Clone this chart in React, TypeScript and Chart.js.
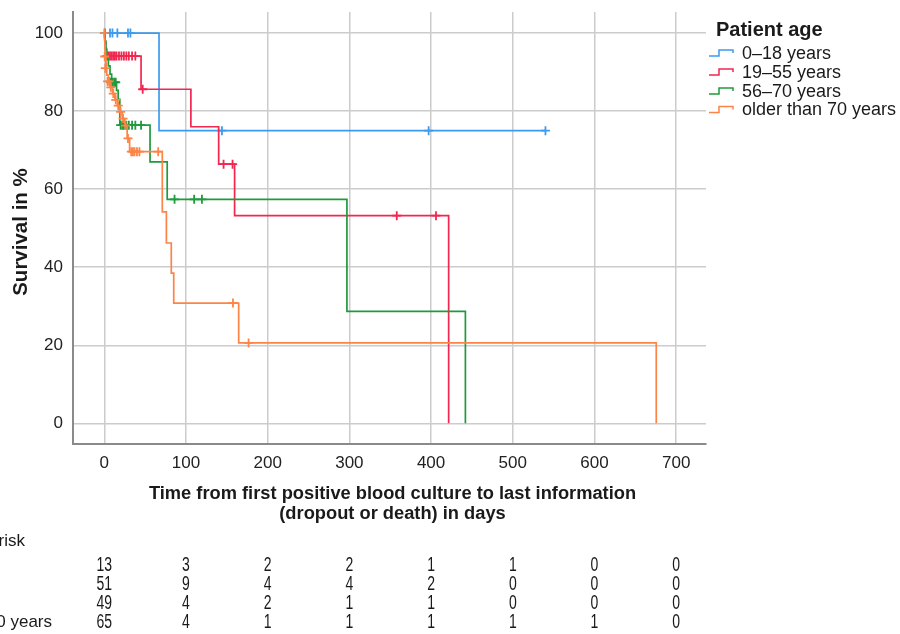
import React, { useEffect, useRef } from "react";
import { Chart, registerables } from "chart.js";

Chart.register(...registerables);

const FONT = '"Liberation Sans", Arial, sans-serif';

const groupLabels = ["0–18 years", "19–55 years", "56–70 years", "older than 70 years"];
const groupColors = ["#3d9bef", "#f2264f", "#1f9a3c", "#fd8446"];

// 0–18 years
const blueTimes = [0, 67, 540];
const blueSurv = [100, 75, 75];
const blueCensorTimes = [1, 7, 10, 16, 29, 32, 144, 397, 540];
const blueCensorSurv = [100, 100, 100, 100, 100, 100, 75, 75, 75];

// 19–55 years
const redTimes = [0, 0.5, 1.5, 2.5, 45, 106, 140, 159.5, 421.5];
const redSurv = [100, 98, 96.1, 94.1, 85.6, 76.0, 66.4, 53.2, 0];
const redCensorTimes = [3, 5, 7, 9, 11, 13, 15, 18, 21, 24, 27, 30, 34, 38, 47, 146, 157, 358, 406];
const redCensorSurv = [94.1, 94.1, 94.1, 94.1, 94.1, 94.1, 94.1, 94.1, 94.1, 94.1, 94.1, 94.1, 94.1, 94.1, 85.6, 66.4, 66.4, 53.2, 53.2];

// 56–70 years
const greenTimes = [0, 1, 2, 3, 5, 7, 9, 15, 17, 19, 56, 77, 297, 442];
const greenSurv = [100, 97.9, 95.8, 93.7, 91.6, 89.5, 87.4, 85.3, 83.0, 76.4, 67.0, 57.4, 28.7, 0];
const greenCensorTimes = [8, 10, 12, 14, 20, 22, 24, 27, 30, 34, 38, 45, 86, 110, 119.5];
const greenCensorSurv = [87.4, 87.4, 87.4, 87.4, 76.4, 76.4, 76.4, 76.4, 76.4, 76.4, 76.4, 76.4, 57.4, 57.4, 57.4];

// older than 70 years
const orangeTimes = [0, 0.3, 0.7, 1, 1.5, 2, 2.5, 3, 5, 7, 10, 13, 16, 19, 22, 25, 28, 31, 71, 76, 82, 85, 164.5, 675.6];
const orangeSurv = [100, 98.5, 96.9, 95.4, 93.8, 92.3, 90.8, 89.2, 87.6, 86.1, 84.5, 82.9, 81.4, 79.8, 78.1, 76.3, 73.0, 69.6, 54.2, 46.2, 38.5, 30.8, 20.6, 0];
const orangeCensorTimes = [0, 0.5, 1.2, 4, 6, 8, 11, 14, 17, 20, 23, 26, 29, 33, 35, 37, 40, 43, 66, 157.5, 176.6];
const orangeCensorSurv = [100, 94, 91, 87.6, 87.6, 86.1, 84.5, 82.9, 81.4, 79.8, 78.1, 76.3, 73.0, 69.6, 69.6, 69.6, 69.6, 69.6, 69.6, 30.8, 20.6];

// Number at risk table
const riskTimes = [0, 100, 200, 300, 400, 500, 600, 700];
const riskBlue = [13, 3, 2, 2, 1, 1, 0, 0];
const riskRed = [51, 9, 4, 4, 2, 0, 0, 0];
const riskGreen = [49, 4, 2, 1, 1, 0, 0, 0];
const riskOrange = [65, 4, 1, 1, 1, 1, 1, 0];

const xTicks = [0, 100, 200, 300, 400, 500, 600, 700];
const yTicks = [0, 20, 40, 60, 80, 100];

const xTitleLines = ["Time from first positive blood culture to last information", "(dropout or death) in days"];
const yTitle = "Survival in %";
const legendTitle = "Patient age";
const riskTitle = "Number at risk";

const toXY = (ts: number[], ss: number[]) => ts.map((t, i) => ({ x: t, y: ss[i] }));

export default function App() {
  const ref = useRef<HTMLCanvasElement | null>(null);

  useEffect(() => {
    if (!ref.current) return;
    const groups = [
      [blueTimes, blueSurv, blueCensorTimes, blueCensorSurv],
      [redTimes, redSurv, redCensorTimes, redCensorSurv],
      [greenTimes, greenSurv, greenCensorTimes, greenCensorSurv],
      [orangeTimes, orangeSurv, orangeCensorTimes, orangeCensorSurv],
    ];
    const datasets: any[] = [];
    groups.forEach((g, i) => {
      datasets.push({
        label: groupLabels[i],
        data: toXY(g[0], g[1]),
        borderColor: groupColors[i],
        borderWidth: 1.7,
        stepped: "before",
        pointRadius: 0,
        fill: false,
        order: 10 - i * 2,
      });
      datasets.push({
        label: groupLabels[i] + " censored",
        data: toXY(g[2], g[3]),
        showLine: false,
        pointStyle: "cross",
        pointRadius: 4.5,
        pointBorderColor: groupColors[i],
        pointBackgroundColor: groupColors[i],
        pointBorderWidth: 1.8,
        order: 10 - i * 2,
      });
    });
    const risks = [riskBlue, riskRed, riskGreen, riskOrange];

    const overlay = {
      id: "overlay",
      afterDraw(chart: any) {
        const ctx = chart.ctx as CanvasRenderingContext2D;
        const xs = chart.scales.x;
        const area = chart.chartArea;
        ctx.save();
        // x title
        ctx.fillStyle = "#1a1a1a";
        ctx.font = `bold 18.3px ${FONT}`;
        ctx.textAlign = "center";
        ctx.textBaseline = "middle";
        const cx = (area.left + area.right) / 2 + 3;
        ctx.fillText(xTitleLines[0], cx, 494);
        ctx.fillText(xTitleLines[1], cx, 514);
        // y title
        ctx.save();
        ctx.translate(21, 232);
        ctx.rotate(-Math.PI / 2);
        ctx.font = `bold 20.5px ${FONT}`;
        ctx.fillText(yTitle, 0, 0);
        ctx.restore();
        // legend
        ctx.textAlign = "left";
        ctx.font = `bold 20px ${FONT}`;
        ctx.fillText(legendTitle, 716, 30);
        ctx.font = `18px ${FONT}`;
        const ly = [53, 72, 91, 109.5];
        groupLabels.forEach((lab, i) => {
          const y = ly[i];
          ctx.strokeStyle = groupColors[i];
          ctx.lineWidth = 1.5;
          ctx.beginPath();
          ctx.moveTo(709, y + 3);
          ctx.lineTo(719, y + 3);
          ctx.lineTo(719, y - 3);
          ctx.lineTo(733, y - 3);
          ctx.lineTo(733, y);
          ctx.stroke();
          ctx.fillStyle = "#1a1a1a";
          ctx.fillText(lab, 742, y + 1);
        });
        // number at risk table
        const sx = 0.7;
        const narrow = (text: string, x: number, y: number, align: CanvasTextAlign) => {
          ctx.save();
          ctx.translate(x, y);
          ctx.scale(sx, 1);
          ctx.textAlign = align;
          ctx.fillText(text, 0, 0);
          ctx.restore();
        };
        ctx.fillStyle = "#1a1a1a";
        ctx.font = `17px ${FONT}`;
        ctx.textAlign = "right";
        ctx.fillText(riskTitle, 25, 541);
        const rowY = [565, 584, 603, 622];
        const labelStart = 52 - ctx.measureText(groupLabels[3]).width;
        ctx.textAlign = "left";
        groupLabels.forEach((lab, r) => ctx.fillText(lab, labelStart, rowY[r]));
        ctx.font = `20px ${FONT}`;
        risks.forEach((row, r) => {
          row.forEach((v, j) => {
            narrow(String(v), xs.getPixelForValue(riskTimes[j]), rowY[r], "center");
          });
        });
        ctx.restore();
      },
    };

    const chart = new Chart(ref.current, {
      type: "line",
      data: { datasets },
      plugins: [overlay],
      options: {
        animation: false,
        responsive: false,
        layout: { padding: { left: 0, top: 12, right: 194, bottom: 0 } },
        plugins: { legend: { display: false }, tooltip: { enabled: false } },
        scales: {
          x: {
            type: "linear",
            min: -38.3,
            max: 736.5,
            afterBuildTicks: (s: any) => {
              s.ticks = xTicks.map((v) => ({ value: v }));
            },
            afterFit: (s: any) => {
              s.height = 190;
              s.paddingLeft = 0;
              s.paddingRight = 0;
            },
            grid: { color: "#cccccc", lineWidth: 1.5, drawTicks: false },
            border: { color: "#8a8a8a", width: 2 },
            ticks: {
              font: { family: FONT, size: 17 },
              color: "#222222",
              padding: 9,
              maxRotation: 0,
              autoSkip: false,
            },
          },
          y: {
            type: "linear",
            min: -5.3,
            max: 105.4,
            afterBuildTicks: (s: any) => {
              s.ticks = yTicks.map((v) => ({ value: v }));
            },
            afterFit: (s: any) => {
              s.width = 73;
              s.paddingTop = 0;
              s.paddingBottom = 0;
            },
            grid: { color: "#cccccc", lineWidth: 1.5, drawTicks: false },
            border: { color: "#8a8a8a", width: 2 },
            ticks: {
              font: { family: FONT, size: 17 },
              color: "#222222",
              padding: 10,
              autoSkip: false,
            },
          },
        },
      } as any,
    });
    return () => chart.destroy();
  }, []);

  return (
    <div style={{ position: "absolute", left: 0, top: 0, width: 900, height: 634, background: "#fff" }}>
      <canvas ref={ref} width={900} height={634} style={{ display: "block" }} />
    </div>
  );
}
